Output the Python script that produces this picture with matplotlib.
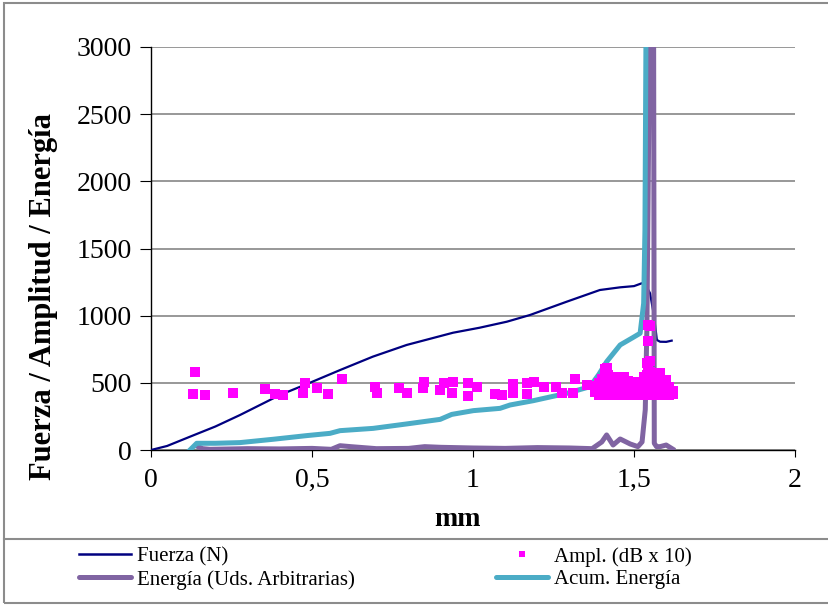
import matplotlib
matplotlib.use("Agg")
import matplotlib.pyplot as plt
from matplotlib.lines import Line2D
from matplotlib.patches import Rectangle
from matplotlib.ticker import FuncFormatter

plt.rcParams['font.family'] = ['Liberation Serif', 'DejaVu Serif']

# ---------------- data ----------------
fuerza_x = [0.0, 0.05, 0.121, 0.20, 0.276, 0.40, 0.494, 0.587, 0.689, 0.794, 0.87,
            0.938, 1.02, 1.105, 1.177, 1.291, 1.394, 1.457, 1.50, 1.524, 1.535,
            1.55, 1.562, 1.571, 1.581, 1.60, 1.617]
fuerza_y = [0, 30, 99, 175, 260, 409, 501, 595, 695, 782, 830,
            873, 910, 955, 1005, 1104, 1191, 1211, 1220, 1241, 1235,
            1166, 1000, 819, 806, 805, 814]

energia_x = [0.146, 0.16, 0.183, 0.30, 0.40, 0.50, 0.56, 0.587, 0.62, 0.70, 0.80,
             0.85, 0.90, 1.00, 1.10, 1.20, 1.30, 1.37, 1.40, 1.415, 1.435, 1.457,
             1.488, 1.512, 1.525, 1.535, 1.540, 1.548, 1.553, 1.561, 1.563, 1.57,
             1.581, 1.60, 1.62]
energia_y = [25, 10, 5, 10, 8, 12, 5, 32, 25, 10, 12,
             25, 20, 15, 12, 18, 15, 10, 60, 112, 37, 82,
             45, 25, 60, 300, 900, 3000, 3600, 3000, 50, 25,
             25, 37, 7]

acum_x = [0.121, 0.142, 0.20, 0.276, 0.38, 0.483, 0.556, 0.587, 0.69, 0.794, 0.898,
          0.934, 1.001, 1.084, 1.115, 1.187, 1.291, 1.363, 1.39, 1.415, 1.457,
          1.498, 1.519, 1.53, 1.534, 1.537, 1.545]
acum_y = [0, 50, 50, 55, 80, 107, 124, 144, 161, 194, 228,
          265, 293, 310, 335, 367, 422, 471, 560, 657, 782,
          839, 869, 1092, 1638, 3000, 6000]

amp_x = [0.137, 0.131, 0.168, 0.256, 0.354, 0.385, 0.409, 0.478, 0.473, 0.515,
         0.551, 0.592, 0.696, 0.701, 0.771, 0.796, 0.848, 0.846, 0.898, 0.910,
         0.939, 0.936, 0.986, 1.011, 0.986, 1.068, 1.089, 1.125, 1.123, 1.169,
         1.19, 1.167, 1.22, 1.258, 1.275, 1.311, 1.317, 1.353,
         1.38, 1.38, 1.39, 1.39, 1.39, 1.40, 1.40, 1.40,
         1.41, 1.41, 1.41, 1.41, 1.415, 1.415, 1.415, 1.42, 1.42, 1.42,
         1.43, 1.43, 1.43, 1.44, 1.44, 1.44, 1.45, 1.45, 1.45,
         1.46, 1.46, 1.46, 1.47, 1.47, 1.47, 1.48, 1.48, 1.48,
         1.49, 1.49, 1.49, 1.50, 1.50, 1.50, 1.51, 1.51,
         1.52, 1.52, 1.52, 1.53, 1.53, 1.53, 1.54, 1.54, 1.54, 1.54,
         1.545, 1.545, 1.545, 1.545, 1.545, 1.55, 1.55, 1.55, 1.55, 1.55,
         1.56, 1.56, 1.56, 1.57, 1.57, 1.57, 1.58, 1.58, 1.58,
         1.59, 1.59, 1.59, 1.60, 1.60, 1.60, 1.61, 1.61, 1.61, 1.62, 1.62]
amp_y = [583, 417, 409, 422, 454, 417, 409, 496, 422, 459,
         417, 528, 467, 427, 459, 427, 509, 459, 447, 496,
         509, 427, 496, 467, 402, 417, 409, 491, 427, 496,
         509, 417, 471, 471, 422, 422, 526, 484,
         430, 480, 410, 450, 500, 415, 470, 530,
         410, 460, 520, 600, 430, 500, 610, 410, 470, 560,
         420, 490, 545, 410, 460, 530, 415, 480, 545,
         410, 450, 520, 420, 470, 540, 410, 460, 510,
         415, 470, 500, 410, 450, 505, 420, 480,
         410, 460, 500, 415, 470, 540, 410, 480, 560, 645,
         430, 520, 600, 930, 810, 410, 470, 580, 660, 920,
         420, 500, 560, 410, 460, 540, 415, 480, 570,
         410, 450, 510, 420, 470, 520, 410, 440, 470, 415, 440]

x_ticks = [0, 0.5, 1, 1.5, 2]
y_ticks = [0, 500, 1000, 1500, 2000, 2500, 3000]

lbl_fuerza = "Fuerza (N)"
lbl_amp = "Ampl. (dB x 10)"
lbl_energia = "Energía (Uds. Arbitrarias)"
lbl_acum = "Acum. Energía"

c_fuerza = "#000080"
c_amp = "#FF00FF"
c_energia = "#8064A2"
c_acum = "#4BACC6"

# ---------------- figure ----------------
W, H = 829, 605
fig = plt.figure(figsize=(W / 100, H / 100), dpi=100)

# outer frame and legend box
fig.add_artist(Rectangle((4 / W, 1 - 603 / H), (W + 10) / W, (603 - 3) / H,
                         transform=fig.transFigure, fill=False,
                         edgecolor="#8c8c8c", linewidth=1.5))
fig.add_artist(Line2D([4 / W, 1.0], [1 - 539 / H, 1 - 539 / H],
                      transform=fig.transFigure, color="#8c8c8c", linewidth=1.5))

ax = fig.add_axes([151 / W, 1 - 450 / H, (795 - 151) / W, (450 - 47) / H])

ax.set_xlim(0, 2)
ax.set_ylim(0, 3000)
ax.set_xticks(x_ticks)
ax.set_yticks(y_ticks)
ax.xaxis.set_major_formatter(FuncFormatter(lambda v, p: ("%g" % v).replace(".", ",")))

ax.grid(axis="y", color="#868686", linewidth=1.2)
ax.set_axisbelow(True)
for s in ("top", "right"):
    ax.spines[s].set_visible(False)
for s in ("left", "bottom"):
    ax.spines[s].set_color("black")
    ax.spines[s].set_linewidth(1.0)

ax.tick_params(axis="both", direction="out", labelsize=20, color="black")
ax.tick_params(axis="y", length=8, pad=6)
ax.tick_params(axis="x", length=5, pad=8)

ax.plot(fuerza_x, fuerza_y, color=c_fuerza, linewidth=1.6, zorder=3)
ax.plot(energia_x, energia_y, color=c_energia, linewidth=3.6, zorder=4,
        solid_joinstyle="round")
ax.plot(acum_x, acum_y, color=c_acum, linewidth=3.6, zorder=5,
        solid_joinstyle="round")
ax.plot(amp_x, amp_y, linestyle="none", marker="s", markersize=7.2,
        color=c_amp, markeredgewidth=0, zorder=6)

ax.set_xlabel("mm", fontsize=20, fontweight="bold")
ax.xaxis.set_label_coords((458 - 151) / 644, -(519 - 450) / 403)
ax.xaxis.label.set_verticalalignment("center")
ax.set_ylabel("Fuerza / Amplitud / Energía", fontsize=22, fontweight="bold")
ax.yaxis.set_label_coords((43 - 151) / 644, (450 - 296) / 403)
ax.yaxis.label.set_verticalalignment("center")

handles = [
    Line2D([], [], color=c_fuerza, linewidth=1.8),
    Line2D([], [], color=c_energia, linewidth=3.6, solid_capstyle="round"),
    Line2D([], [], linestyle="none", marker="s", markersize=5, color=c_amp,
           markeredgewidth=0),
    Line2D([], [], color=c_acum, linewidth=3.6, solid_capstyle="round"),
]
labels = [lbl_fuerza, lbl_energia, lbl_amp, lbl_acum]
fig.legend(handles, labels, ncol=2, frameon=False, loc="upper left",
           bbox_to_anchor=(79 / W, 1 - 547 / H), borderpad=0, borderaxespad=0,
           prop={"size": 15}, handlelength=2.5, handletextpad=0.3,
           columnspacing=6.75, labelspacing=0.15)

fig.savefig("out.png", dpi=100)
